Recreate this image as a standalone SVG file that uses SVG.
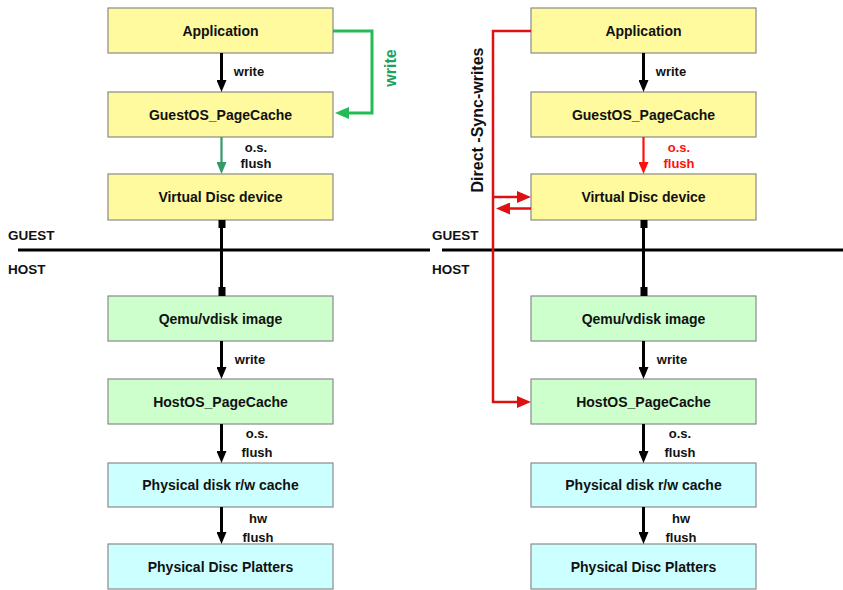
<svg xmlns="http://www.w3.org/2000/svg" width="843" height="590" viewBox="0 0 843 590">
<style>
  .box { stroke: #8a8a8a; stroke-width: 1.2; }
  .y { fill: #FFFA9E; }
  .g { fill: #CCFFCC; }
  .c { fill: #CCFFFF; }
  .t { font-family: "Liberation Sans", Arial, sans-serif; font-weight: bold; font-size: 14px; fill: #111; text-anchor: middle; }
  .l { font-family: "Liberation Sans", Arial, sans-serif; font-weight: bold; font-size: 13px; fill: #111; text-anchor: middle; }
  .s { text-anchor: start; font-size: 13.5px; }
  .v { font-size: 16px; }
  .red { fill: #FF1010; }
  .grn { fill: #22A060; }
  .blk { stroke: #000; stroke-width: 3; fill: none; }
  .gl { stroke: #22BB55; stroke-width: 3; fill: none; }
  .gf { stroke: #339966; stroke-width: 2.2; fill: none; }
  .rl { stroke: #DD1111; stroke-width: 2.5; fill: none; }
  .rf { stroke: #FF1010; stroke-width: 2.2; fill: none; }
</style>
<defs>
  <marker id="ab" markerUnits="userSpaceOnUse" viewBox="0 0 12 10" markerWidth="12" markerHeight="10" refX="1" refY="5" orient="auto"><path d="M0,0 L12,5 L0,10 z" fill="#000"/></marker>
  <marker id="ag" markerUnits="userSpaceOnUse" viewBox="0 0 14 12" markerWidth="14" markerHeight="12" refX="1" refY="6" orient="auto"><path d="M0,0 L14,6 L0,12 z" fill="#22BB55"/></marker>
  <marker id="agf" markerUnits="userSpaceOnUse" viewBox="0 0 12 10" markerWidth="12" markerHeight="10" refX="1" refY="5" orient="auto"><path d="M0,0 L12,5 L0,10 z" fill="#339966"/></marker>
  <marker id="ar" markerUnits="userSpaceOnUse" viewBox="0 0 14 12" markerWidth="14" markerHeight="12" refX="1" refY="6" orient="auto"><path d="M0,0 L14,6 L0,12 z" fill="#DD1111"/></marker>
  <marker id="arf" markerUnits="userSpaceOnUse" viewBox="0 0 12 10" markerWidth="12" markerHeight="10" refX="1" refY="5" orient="auto"><path d="M0,0 L12,5 L0,10 z" fill="#FF1010"/></marker>
</defs>

<!-- separator -->
<g id="separator">
  <line x1="18" y1="250" x2="430" y2="250" stroke="#000" stroke-width="3"/>
  <line x1="442" y1="250" x2="843" y2="250" stroke="#000" stroke-width="3"/>
  <text class="l s" x="8" y="240">GUEST</text>
  <text class="l s" x="8" y="274">HOST</text>
  <text class="l s" x="432" y="240">GUEST</text>
  <text class="l s" x="432" y="274">HOST</text>
</g>

<!-- left column nodes -->
<g id="L_app"><rect class="box y" x="108" y="8" width="225" height="45"/><text class="t" x="220.5" y="35.5">Application</text></g>
<g id="L_guest"><rect class="box y" x="108" y="92" width="225" height="45"/><text class="t" x="220.5" y="119.5">GuestOS_PageCache</text></g>
<g id="L_vdisc"><rect class="box y" x="108" y="174" width="225" height="46"/><text class="t" x="220.5" y="202">Virtual Disc device</text></g>
<g id="L_qemu"><rect class="box g" x="108" y="296" width="225" height="45"/><text class="t" x="220.5" y="323.5">Qemu/vdisk image</text></g>
<g id="L_host"><rect class="box g" x="108" y="379" width="225" height="45"/><text class="t" x="220.5" y="406.5">HostOS_PageCache</text></g>
<g id="L_pcache"><rect class="box c" x="108" y="463" width="225" height="44"/><text class="t" x="220.5" y="490">Physical disk r/w cache</text></g>
<g id="L_plat"><rect class="box c" x="108" y="544" width="225" height="45"/><text class="t" x="220.5" y="571.5">Physical Disc Platters</text></g>

<!-- right column nodes -->
<g id="R_app"><rect class="box y" x="531" y="8" width="225" height="45"/><text class="t" x="643.5" y="35.5">Application</text></g>
<g id="R_guest"><rect class="box y" x="531" y="92" width="225" height="45"/><text class="t" x="643.5" y="119.5">GuestOS_PageCache</text></g>
<g id="R_vdisc"><rect class="box y" x="531" y="174" width="225" height="46"/><text class="t" x="643.5" y="202">Virtual Disc device</text></g>
<g id="R_qemu"><rect class="box g" x="531" y="296" width="225" height="45"/><text class="t" x="643.5" y="323.5">Qemu/vdisk image</text></g>
<g id="R_host"><rect class="box g" x="531" y="379" width="225" height="45"/><text class="t" x="643.5" y="406.5">HostOS_PageCache</text></g>
<g id="R_pcache"><rect class="box c" x="531" y="463" width="225" height="44"/><text class="t" x="643.5" y="490">Physical disk r/w cache</text></g>
<g id="R_plat"><rect class="box c" x="531" y="544" width="225" height="45"/><text class="t" x="643.5" y="571.5">Physical Disc Platters</text></g>

<!-- connectors -->
<g id="connectors">
  <!-- left -->
  <line class="blk" x1="221.5" y1="53" x2="221.5" y2="81" marker-end="url(#ab)"/>
  <text class="l" x="249" y="76">write</text>
  <line class="gf" x1="221.5" y1="137" x2="221.5" y2="163" marker-end="url(#agf)"/>
  <text class="l" x="256" y="152">o.s.</text>
  <text class="l" x="256" y="168">flush</text>
  <path class="gl" d="M333,31 H372 V113 H348" marker-end="url(#ag)"/>
  <text class="l v grn" transform="translate(396,68) rotate(-90)">write</text>
  <line class="blk" x1="221.5" y1="220" x2="221.5" y2="296"/>
  <rect x="218.5" y="220" width="7" height="8" fill="#000"/>
  <rect x="218.5" y="287" width="7" height="9" fill="#000"/>
  <line class="blk" x1="221.5" y1="341" x2="221.5" y2="368" marker-end="url(#ab)"/>
  <text class="l" x="250" y="364">write</text>
  <line class="blk" x1="221.5" y1="424" x2="221.5" y2="452" marker-end="url(#ab)"/>
  <text class="l" x="257" y="438">o.s.</text>
  <text class="l" x="257" y="457">flush</text>
  <line class="blk" x1="221.5" y1="507" x2="221.5" y2="533" marker-end="url(#ab)"/>
  <text class="l" x="258" y="523">hw</text>
  <text class="l" x="258" y="542">flush</text>

  <!-- right -->
  <line class="blk" x1="643.5" y1="53" x2="643.5" y2="81" marker-end="url(#ab)"/>
  <text class="l" x="671" y="76">write</text>
  <line class="rf" x1="643.5" y1="137" x2="643.5" y2="163" marker-end="url(#arf)"/>
  <text class="l red" x="679" y="152">o.s.</text>
  <text class="l red" x="679" y="168">flush</text>
  <path class="rl" d="M531,31 H493 V402 H518" marker-end="url(#ar)"/>
  <line class="rl" x1="493" y1="197" x2="518" y2="197" marker-end="url(#ar)"/>
  <line class="rl" x1="531" y1="208.5" x2="509" y2="208.5" marker-end="url(#ar)"/>
  <text class="l v" transform="translate(483,120) rotate(-90)">Direct -Sync-writes</text>
  <line class="blk" x1="643.5" y1="220" x2="643.5" y2="296"/>
  <rect x="640.5" y="220" width="7" height="8" fill="#000"/>
  <rect x="640.5" y="287" width="7" height="9" fill="#000"/>
  <line class="blk" x1="643.5" y1="341" x2="643.5" y2="368" marker-end="url(#ab)"/>
  <text class="l" x="672" y="364">write</text>
  <line class="blk" x1="643.5" y1="424" x2="643.5" y2="452" marker-end="url(#ab)"/>
  <text class="l" x="680" y="438">o.s.</text>
  <text class="l" x="680" y="457">flush</text>
  <line class="blk" x1="643.5" y1="507" x2="643.5" y2="533" marker-end="url(#ab)"/>
  <text class="l" x="681" y="523">hw</text>
  <text class="l" x="681" y="542">flush</text>
</g>
</svg>
